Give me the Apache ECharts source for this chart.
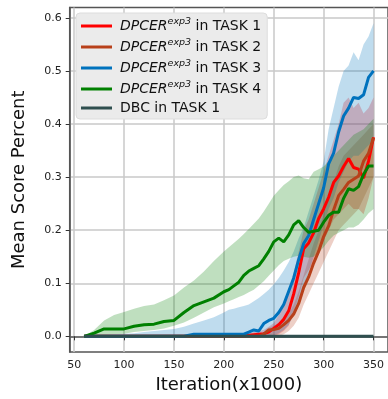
<!DOCTYPE html>
<html>
<head>
<meta charset="utf-8">
<script src="https://cdn.jsdelivr.net/npm/echarts@6/dist/echarts.min.js"></script>
<style>
  html, body { margin: 0; padding: 0; background: #fff; }
  #chart { width: 388px; height: 399px; }
</style>
</head>
<body>
<div id="chart"></div>
<script>
// iteration (x1000)
const iterations = [60, 70, 80, 90, 100, 110, 120, 130, 140, 150, 160, 170, 180, 190, 200,
  205, 210, 215, 220, 225, 230, 235, 240, 245, 250, 255, 260, 265, 270, 275, 280, 285, 290, 295, 300,
  305, 310, 315, 320, 325, 330, 335, 340, 345, 350];

const xTicks = [50, 100, 150, 200, 250, 300, 350];
const yTicks = [0, 0.1, 0.2, 0.3, 0.4, 0.5, 0.6];

// mean score, TASK 1
const task1Mean = [0, 0, 0, 0, 0, 0, 0, 0, 0, 0, 0, 0, 0, 0, 0,
  0, 0, 0, 0, 0.002, 0.003, 0.004, 0.005, 0.008, 0.015, 0.022, 0.032, 0.048, 0.08, 0.12, 0.165, 0.176, 0.195, 0.222, 0.24,
  0.262, 0.29, 0.302, 0.32, 0.335, 0.318, 0.315, 0.298, 0.33, 0.375];
const task1Low = [0, 0, 0, 0, 0, 0, 0, 0, 0, 0, 0, 0, 0, 0, 0,
  0, 0, 0, 0, 0, 0, 0, 0, 0, 0, 0.004, 0.01, 0.02, 0.045, 0.075, 0.11, 0.125, 0.14, 0.16, 0.18,
  0.2, 0.22, 0.23, 0.24, 0.25, 0.24, 0.24, 0.23, 0.26, 0.3];
const task1High = [0, 0, 0, 0, 0, 0, 0, 0, 0, 0, 0, 0, 0, 0, 0,
  0, 0, 0, 0.002, 0.005, 0.008, 0.01, 0.012, 0.018, 0.025, 0.04, 0.06, 0.085, 0.12, 0.16, 0.2, 0.22, 0.25, 0.28, 0.31,
  0.34, 0.37, 0.4, 0.44, 0.45, 0.43, 0.44, 0.42, 0.43, 0.45];

// TASK 2
const task2Mean = [0, 0, 0, 0, 0, 0, 0, 0, 0, 0, 0, 0, 0, 0, 0,
  0, 0, 0, 0, 0, 0, 0, 0.004, 0.012, 0.013, 0.015, 0.022, 0.03, 0.042, 0.062, 0.092, 0.112, 0.138, 0.16, 0.188,
  0.208, 0.238, 0.265, 0.277, 0.29, 0.296, 0.302, 0.33, 0.345, 0.374];
const task2Low = [0, 0, 0, 0, 0, 0, 0, 0, 0, 0, 0, 0, 0, 0, 0,
  0, 0, 0, 0, 0, 0, 0, 0, 0, 0, 0, 0.004, 0.01, 0.02, 0.035, 0.06, 0.08, 0.1, 0.12, 0.14,
  0.16, 0.18, 0.2, 0.21, 0.22, 0.23, 0.24, 0.26, 0.28, 0.3];
const task2High = [0, 0, 0, 0, 0, 0, 0, 0, 0, 0, 0, 0, 0, 0, 0,
  0, 0, 0, 0, 0, 0, 0.002, 0.008, 0.016, 0.02, 0.025, 0.032, 0.042, 0.06, 0.085, 0.115, 0.145, 0.175, 0.2, 0.23,
  0.26, 0.29, 0.32, 0.34, 0.35, 0.36, 0.37, 0.38, 0.39, 0.4];

// TASK 3
const task3Mean = [0, 0, 0, 0, 0, 0, 0, 0, 0, 0, 0, 0.004, 0.004, 0.004, 0.004,
  0.004, 0.004, 0.004, 0.004, 0.008, 0.012, 0.01, 0.024, 0.03, 0.034, 0.045, 0.06, 0.085, 0.11, 0.145, 0.175, 0.19, 0.22, 0.25, 0.28,
  0.325, 0.345, 0.385, 0.415, 0.43, 0.45, 0.448, 0.455, 0.488, 0.5];
const task3Low = [0, 0, 0, 0, 0, 0, 0, 0, 0, 0, 0, 0, 0, 0, 0,
  0, 0, 0, 0, 0, 0, 0, 0, 0, 0.002, 0.006, 0.012, 0.022, 0.04, 0.06, 0.09, 0.12, 0.15, 0.18, 0.21,
  0.24, 0.26, 0.29, 0.31, 0.33, 0.34, 0.34, 0.35, 0.36, 0.37];
const task3High = [0, 0, 0.002, 0.004, 0.005, 0.006, 0.008, 0.01, 0.012, 0.014, 0.018, 0.024, 0.03, 0.036, 0.045,
  0.05, 0.052, 0.055, 0.057, 0.06, 0.066, 0.072, 0.08, 0.088, 0.098, 0.11, 0.124, 0.14, 0.16, 0.185, 0.205, 0.235, 0.265, 0.295, 0.33,
  0.39, 0.43, 0.47, 0.5, 0.51, 0.535, 0.52, 0.55, 0.565, 0.59];

// TASK 4
const task4Mean = [0, 0.006, 0.014, 0.014, 0.014, 0.019, 0.022, 0.023, 0.028, 0.03, 0.045, 0.058, 0.065, 0.072, 0.084,
  0.088, 0.095, 0.102, 0.115, 0.123, 0.128, 0.133, 0.146, 0.16, 0.178, 0.185, 0.178, 0.191, 0.21, 0.218, 0.205, 0.196, 0.198, 0.2, 0.215,
  0.228, 0.234, 0.234, 0.26, 0.278, 0.275, 0.282, 0.305, 0.321, 0.321];
const task4Low = [0, 0, 0.002, 0.004, 0.005, 0.008, 0.01, 0.012, 0.015, 0.02, 0.026, 0.035, 0.045, 0.055, 0.062,
  0.066, 0.07, 0.074, 0.078, 0.083, 0.088, 0.096, 0.104, 0.114, 0.124, 0.134, 0.142, 0.146, 0.15, 0.152, 0.15, 0.148, 0.15, 0.158, 0.168,
  0.18, 0.19, 0.195, 0.2, 0.205, 0.205, 0.21, 0.22, 0.232, 0.24];
const task4High = [0, 0.012, 0.03, 0.04, 0.046, 0.052, 0.057, 0.06, 0.068, 0.077, 0.092, 0.105, 0.122, 0.142, 0.16,
  0.168, 0.176, 0.184, 0.193, 0.202, 0.212, 0.222, 0.235, 0.25, 0.265, 0.275, 0.285, 0.292, 0.3, 0.303, 0.298, 0.296, 0.31, 0.315, 0.32,
  0.33, 0.34, 0.35, 0.36, 0.37, 0.38, 0.385, 0.39, 0.4, 0.41];

// DBC baseline
const dbcMean = [0, 0, 0, 0, 0, 0, 0, 0, 0, 0, 0, 0, 0, 0, 0,
  0, 0, 0, 0, 0, 0, 0, 0, 0, 0, 0, 0, 0, 0, 0, 0, 0, 0, 0, 0,
  0, 0, 0, 0, 0, 0, 0, 0, 0, 0];

const FONT = 'DejaVu Sans';

const lines = [
  { name: 'DPCER exp3 in TASK 1', label: '{i|DPCER}{s|exp3}{n| in TASK 1}', color: '#ff0000', band: 'rgba(255,0,0,0.25)', mean: task1Mean, low: task1Low, high: task1High },
  { name: 'DPCER exp3 in TASK 2', label: '{i|DPCER}{s|exp3}{n| in TASK 2}', color: '#b8401a', band: 'rgba(184,64,26,0.25)', mean: task2Mean, low: task2Low, high: task2High },
  { name: 'DPCER exp3 in TASK 3', label: '{i|DPCER}{s|exp3}{n| in TASK 3}', color: '#0072bd', band: 'rgba(0,114,189,0.25)', mean: task3Mean, low: task3Low, high: task3High },
  { name: 'DPCER exp3 in TASK 4', label: '{i|DPCER}{s|exp3}{n| in TASK 4}', color: '#008000', band: 'rgba(0,128,0,0.25)', mean: task4Mean, low: task4Low, high: task4High },
  { name: 'DBC in TASK 1', label: '{d|DBC in TASK 1}', color: '#2f4f4f', band: null, mean: dbcMean }
];

// 置信带：整段画成一个多边形
function bandSeries(low, high, fill) {
  return {
    type: 'custom',
    silent: true,
    z: 1,
    data: iterations.map((x, i) => [x, low[i], high[i]]),
    encode: { x: 0, y: [1, 2] },
    renderItem: function (params, api) {
      if (params.dataIndex !== 0) return null;
      const pts = [];
      for (let i = 0; i < iterations.length; i++) pts.push(api.coord([iterations[i], high[i]]));
      for (let i = iterations.length - 1; i >= 0; i--) pts.push(api.coord([iterations[i], low[i]]));
      return { type: 'polygon', shape: { points: pts }, style: { fill: fill } };
    }
  };
}

const series = [];
lines.forEach((l) => { if (l.band) series.push(bandSeries(l.low, l.high, l.band)); });
lines.forEach((l) => {
  series.push({
    name: l.name,
    type: 'line',
    z: 2,
    color: l.color,
    showSymbol: false,
    data: iterations.map((x, i) => [x, l.mean[i]]),
    lineStyle: { width: 3, color: l.color }
  });
});

const labelOf = {};
lines.forEach((l) => { labelOf[l.name] = l.label; });

const chart = echarts.init(document.getElementById('chart'));
chart.setOption({
  animation: false,
  backgroundColor: '#ffffff',
  textStyle: { fontFamily: FONT },
  grid: {
    left: 69.7, top: 7.5, right: -5, bottom: 45,
    show: true, borderColor: '#555', borderWidth: 1.5, backgroundColor: 'transparent'
  },
  legend: {
    data: lines.map((l) => l.name),
    left: 76, top: 13,
    orient: 'vertical',
    icon: 'rect',
    itemWidth: 31, itemHeight: 3,
    itemGap: 5,
    padding: [4, 6, 4, 5],
    backgroundColor: '#ebebeb',
    borderColor: '#dddddd', borderWidth: 1, borderRadius: 4,
    selectedMode: false,
    formatter: (name) => labelOf[name],
    textStyle: {
      fontFamily: FONT,
      rich: {
        i: { fontFamily: FONT, fontSize: 14, fontStyle: 'italic', color: '#111', lineHeight: 18, padding: [0, 0, 0, 3] },
        s: { fontFamily: FONT, fontSize: 9.5, fontStyle: 'italic', color: '#111', lineHeight: 9, verticalAlign: 'top' },
        n: { fontFamily: FONT, fontSize: 14, color: '#111', lineHeight: 18 },
        d: { fontFamily: FONT, fontSize: 14, color: '#111', lineHeight: 18, padding: [0, 0, 0, 3] }
      }
    }
  },
  xAxis: {
    type: 'value',
    min: 45.5, max: 364.5,
    name: 'Iteration(x1000)',
    nameLocation: 'middle',
    nameGap: 24,
    nameTextStyle: { fontFamily: FONT, fontSize: 18, color: '#111' },
    axisLine: { show: true, lineStyle: { color: '#555', width: 1.5 } },
    axisTick: { show: true, length: 4, customValues: xTicks, lineStyle: { color: '#333' } },
    axisLabel: { customValues: xTicks, margin: 8, fontSize: 11, color: '#222', fontFamily: FONT },
    splitLine: { show: true, lineStyle: { color: '#c8c8c8', width: 1.5 } }
  },
  yAxis: {
    type: 'value',
    min: -0.0295, max: 0.6195,
    name: 'Mean Score Percent',
    nameLocation: 'middle',
    nameGap: 41,
    nameTextStyle: { fontFamily: FONT, fontSize: 18, color: '#111' },
    axisLine: { show: true, lineStyle: { color: '#555', width: 1.5 } },
    axisTick: { show: true, length: 4, customValues: yTicks, lineStyle: { color: '#333' } },
    axisLabel: { customValues: yTicks, margin: 8, fontSize: 11, color: '#222', fontFamily: FONT, formatter: (v) => v.toFixed(1) },
    splitLine: { show: true, lineStyle: { color: '#c8c8c8', width: 1.5 } }
  },
  series: series
});
</script>
</body>
</html>
